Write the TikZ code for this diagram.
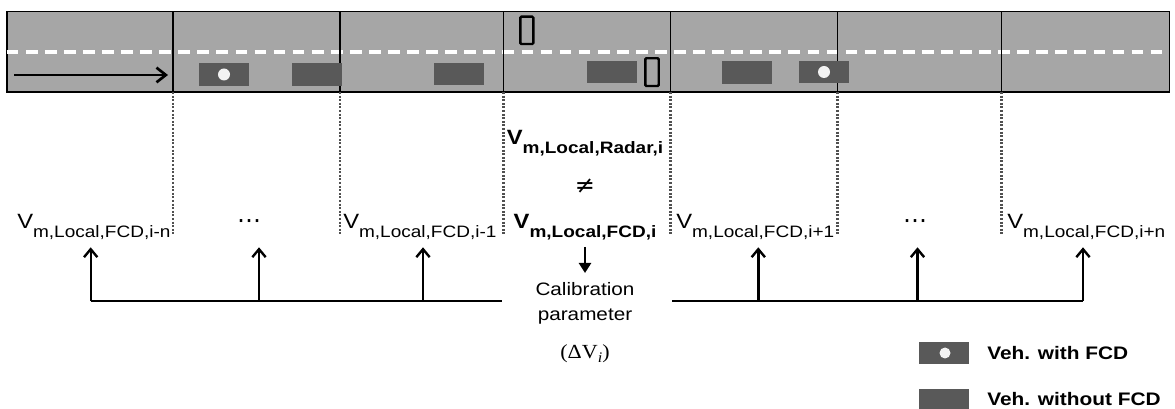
\documentclass[tikz,border=0pt]{standalone}
\usepackage{fontspec}
\setmainfont{Liberation Sans}[FakeStretch=1.15]
\newfontfamily\serifface{Liberation Serif}[FakeStretch=1.1]
\newfontfamily\symface{DejaVu Sans}
\usetikzlibrary{arrows.meta}
\definecolor{roadgray}{HTML}{A6A6A6}
\definecolor{cargray}{HTML}{595959}
\definecolor{dotgray}{HTML}{505050}
\definecolor{lightdot}{HTML}{F2F2F2}
\newcommand\Vlab[1]{{\fontsize{15.5pt}{17pt}\selectfont V}\raisebox{-6.5pt}{\fontsize{12.4pt}{14pt}\selectfont #1}}
\tikzset{
  road/.style={fill=roadgray, draw=black, line width=1.2pt},
  divider/.style={draw=black, line width=1.1pt},
  lanemark/.style={draw=white, line width=2.6pt, dash pattern=on 8.8pt off 5.5pt},
  car/.style={fill=cargray, draw=none},
  fcddot/.style={fill=lightdot, draw=none},
  sensor/.style={draw=black, line width=1.8pt, rounded corners=0.8pt},
  guide/.style={draw=dotgray, line width=1.8pt, dash pattern=on 1.5pt off 1.2pt},
  lab/.style={inner sep=0pt, anchor=base west},
  clab/.style={inner sep=0pt, anchor=base},
  bus/.style={draw=black, line width=1.8pt},
  uparrow/.style={draw=black, line width=1.8pt, -{Straight Barb[length=6pt,width=10pt,line width=1.8pt]}},
  downarrow/.style={draw=black, line width=1.8pt, -{Triangle[length=7.5pt,width=9pt]}},
  dirarrow/.style={draw=black, line width=2pt, -{Straight Barb[length=7pt,width=11pt,line width=2pt]}},
  legtext/.style={inner sep=0pt, anchor=west, font=\fontsize{13.6pt}{15pt}\selectfont\bfseries},
  calib/.style={inner sep=0pt, align=center, font=\fontsize{13.5pt}{19pt}\selectfont},
  symtext/.style={inner sep=0pt, font=\fontsize{18pt}{20pt}\selectfont\symface}
}
\begin{document}
\begin{tikzpicture}[x=0.75pt, y=-0.75pt]
\useasboundingbox (0,0) rectangle (1175,409);
% road
\path[road] (6.7,11.7) rectangle (1169.3,92);
\draw[lanemark] (6.7,52) -- (1163,52);
\foreach \xx/\nm in {173/d1, 340/d2, 503.5/d3, 670.5/d4, 837.5/d5, 1001.5/d6}{
  \coordinate (\nm top) at (\xx,11.7);
  \coordinate (\nm bot) at (\xx,92);
  \coordinate (\nm end) at (\xx,235);
  \draw[divider] (\nm top) -- (\nm bot);
  \draw[guide] (\nm bot) -- (\nm end);
}
% direction arrow
\coordinate (dirA) at (14,75);
\coordinate (dirB) at (168,75);
\draw[dirarrow] (dirA) -- (dirB);
% cars
\path[car] (199,63) rectangle (249,86);
\path[fcddot] (224,74.5) circle (6);
\path[car] (292,63) rectangle (342,86);
\path[car] (434,63) rectangle (484,85);
\path[car] (587,61) rectangle (637,83);
\path[car] (722,61) rectangle (772,84);
\path[car] (799,61) rectangle (849,83);
\path[fcddot] (824,72) circle (6);
% sensors
\draw[sensor] (520.3,16.7) rectangle (533.3,44);
\draw[sensor] (645.3,58.3) rectangle (658.7,86);
% labels
\node[lab] (ln) at (17,229) {\Vlab{m,Local,FCD,i-n}};
\node[symtext, anchor=base] (dl) at (249,229) {⋯};
\node[lab] (l1) at (343,229) {\Vlab{m,Local,FCD,i-1}};
\node[clab] (rad) at (585,145) {\bfseries\Vlab{m,Local,Radar,i}};
\node[symtext] (neq) at (585,186) {≠};
\node[clab] (fcd) at (585,229) {\bfseries\Vlab{m,Local,FCD,i}};
\node[lab] (r1) at (676,229) {\Vlab{m,Local,FCD,i+1}};
\node[symtext, anchor=base] (dr) at (915,229) {⋯};
\node[lab] (rn) at (1007,229) {\Vlab{m,Local,FCD,i+n}};
% calibration
\node[calib] (cal) at (585,303.5) {Calibration\\parameter};
\node[inner sep=0pt] (dv) at (585,354) {\fontsize{15pt}{17pt}\selectfont\serifface(ΔV\raisebox{-3pt}{\fontsize{11pt}{13pt}\selectfont\itshape i})};
\coordinate (dnA) at (585,247);
\coordinate (dnB) at (585,273);
\draw[downarrow] (dnA) -- (dnB);
% bus lines
\coordinate (bL1) at (90.7,301.3);
\coordinate (bL2) at (259,301.3);
\coordinate (bL3) at (423,301.3);
\coordinate (bLe) at (502,301.3);
\coordinate (bRs) at (672,301.3);
\coordinate (bR1) at (758.3,301.3);
\coordinate (bR2) at (917.5,301.3);
\coordinate (bR3) at (1083,301.3);
\draw[bus] (bL1) -- (bLe);
\draw[bus] (bRs) -- (bR3);
\foreach \c in {bL1,bL2,bL3,bR1,bR2,bR3}{
  \draw[uparrow] (\c) -- ++(0,-54);
}
% legend
\path[car] (919.3,342) rectangle (969,363.7);
\path[fcddot] (945,353) circle (5.5);
\node[legtext] (lg1) at (987,353) {Veh. with FCD};
\path[car] (919.3,388.7) rectangle (969,409);
\node[legtext] (lg2) at (987,399) {Veh. without FCD};
\end{tikzpicture}
\end{document}
